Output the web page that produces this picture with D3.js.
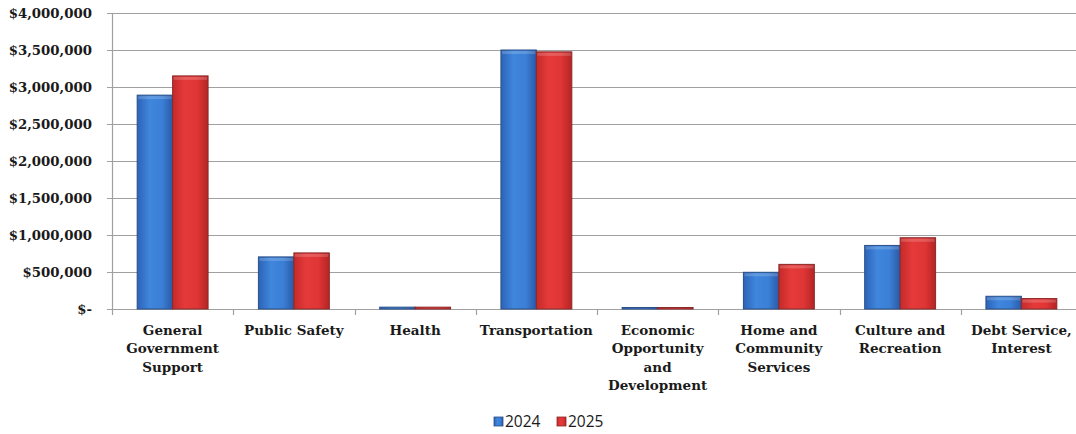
<!DOCTYPE html>
<html>
<head>
<meta charset="utf-8">
<script src="https://cdn.jsdelivr.net/npm/d3@7"></script>
<style>
  body { margin: 0; background: #fff; }
  svg { display: block; }
</style>
</head>
<body>
<div id="chart"></div>
<script>
const width = 1076, height = 434;

const categories = [
  ["General", "Government", "Support"],
  ["Public Safety"],
  ["Health"],
  ["Transportation"],
  ["Economic", "Opportunity", "and", "Development"],
  ["Home and", "Community", "Services"],
  ["Culture and", "Recreation"],
  ["Debt Service,", "Interest"]
];
const years = ["2024", "2025"];
const values2024 = [2890000, 704000, 25000, 3500000, 20000, 496000, 859000, 172000];
const values2025 = [3150000, 758000, 25000, 3475000, 20000, 603000, 963000, 141000];
const yTicks = [0, 500000, 1000000, 1500000, 2000000, 2500000, 3000000, 3500000, 4000000];

const margin = {left: 112, right: -6, top: 13, bottom: 125};

let svg = d3.select("#chart")
    .append("svg")
    .attr("width", width)
    .attr("height", height);

let defs = svg.append("defs");
function addGrad(id, stops) {
    let g = defs.append("linearGradient").attr("id", id)
        .attr("x1", "0%").attr("x2", "100%").attr("y1", "0%").attr("y2", "0%");
    stops.forEach(s => g.append("stop").attr("offset", s[0]).attr("stop-color", s[1]));
}
addGrad("blueGrad", [["0%", "#2c63b8"], ["35%", "#3f86dc"], ["70%", "#3b7fd6"], ["100%", "#2a5aa8"]]);
addGrad("redGrad", [["0%", "#c42a2a"], ["35%", "#e63a3a"], ["70%", "#df3535"], ["100%", "#b52424"]]);

const seriesColor = {"2024": "url(#blueGrad)", "2025": "url(#redGrad)"};
const seriesStroke = {"2024": "#2b4f86", "2025": "#8a2a2a"};

let x = d3.scaleBand()
    .domain(d3.range(categories.length))
    .range([margin.left, width - margin.right])
    .paddingInner(0)
    .paddingOuter(0);

let xSub = d3.scaleBand()
    .domain(years)
    .range([0, x.bandwidth()])
    .paddingInner(0)
    .paddingOuter(0.71);

let y = d3.scaleLinear()
    .domain([0, 4000000])
    .range([309, margin.top]);

// gridlines
svg.append("g")
    .selectAll("line")
    .data(yTicks)
    .enter()
    .append("line")
    .attr("x1", margin.left - 5)
    .attr("x2", width)
    .attr("y1", d => Math.round(y(d)) + 0.5)
    .attr("y2", d => Math.round(y(d)) + 0.5)
    .attr("stroke", "#a0a0a0")
    .attr("stroke-width", 1.2);

// y axis line
svg.append("line")
    .attr("x1", margin.left + 0.5).attr("x2", margin.left + 0.5)
    .attr("y1", y(4000000)).attr("y2", y(0))
    .attr("stroke", "#a0a0a0").attr("stroke-width", 1.2);

// x ticks at band boundaries
svg.append("g")
    .selectAll("line")
    .data(d3.range(categories.length + 1))
    .enter()
    .append("line")
    .attr("x1", d => Math.round(margin.left + d * x.bandwidth()) + 0.5)
    .attr("x2", d => Math.round(margin.left + d * x.bandwidth()) + 0.5)
    .attr("y1", y(0))
    .attr("y2", y(0) + 6)
    .attr("stroke", "#a0a0a0").attr("stroke-width", 1.2);

// y labels
const fmt = d3.format(",");
svg.append("g")
    .selectAll("text")
    .data(yTicks)
    .enter()
    .append("text")
    .attr("x", 92)
    .attr("y", d => y(d))
    .attr("dy", "0.35em")
    .style("text-anchor", "end")
    .style("font-family", "'DejaVu Serif', serif")
    .style("font-weight", "bold")
    .style("font-size", "13.3px")
    .style("fill", "#1a1a1a")
    .text(d => d === 0 ? "$-" : "$" + fmt(d));

// bars
const data = [];
categories.forEach((c, i) => {
    data.push({cat: i, year: "2024", value: values2024[i]});
    data.push({cat: i, year: "2025", value: values2025[i]});
});

let bars = svg.append("g").selectAll("g.bar").data(data).enter().append("g");
bars.append("rect")
    .attr("x", d => x(d.cat) + xSub(d.year))
    .attr("y", d => y(d.value))
    .attr("width", xSub.bandwidth())
    .attr("height", d => y(0) - y(d.value))
    .attr("fill", d => seriesColor[d.year])
    .attr("stroke", d => seriesStroke[d.year])
    .attr("stroke-width", 1);
// soft highlight on top edge
bars.append("rect")
    .attr("x", d => x(d.cat) + xSub(d.year) + 1)
    .attr("y", d => y(d.value) + 1)
    .attr("width", xSub.bandwidth() - 2)
    .attr("height", d => Math.min(3, Math.max(0, y(0) - y(d.value) - 2)))
    .attr("fill", "#ffffff")
    .attr("opacity", 0.18);

// x labels
let xl = svg.append("g")
    .selectAll("text")
    .data(categories)
    .enter()
    .append("text")
    .attr("x", (d, i) => x(i) + x.bandwidth() / 2)
    .attr("y", 335)
    .style("text-anchor", "middle")
    .style("font-family", "'DejaVu Serif', serif")
    .style("font-weight", "bold")
    .style("font-size", "13.5px")
    .style("fill", "#1a1a1a");
xl.selectAll("tspan")
    .data(d => d)
    .enter()
    .append("tspan")
    .attr("x", function() { return d3.select(this.parentNode).attr("x"); })
    .attr("dy", (d, i) => i === 0 ? 0 : 18.3)
    .text(d => d);

// legend
const legendX = [494, 557];
let legend = svg.append("g").selectAll("g").data(years).enter().append("g")
    .attr("transform", (d, i) => `translate(${legendX[i]}, 417)`);
legend.append("rect")
    .attr("width", 9).attr("height", 9)
    .attr("fill", d => seriesColor[d])
    .attr("stroke", d => seriesStroke[d]).attr("stroke-width", 0.8);
legend.append("text")
    .attr("x", 11).attr("y", 10)
    .style("font-family", "'Open Sans', sans-serif")
    .style("font-size", "15.5px")
    .style("fill", "#1a1a1a")
    .text(d => d);
</script>
</body>
</html>
